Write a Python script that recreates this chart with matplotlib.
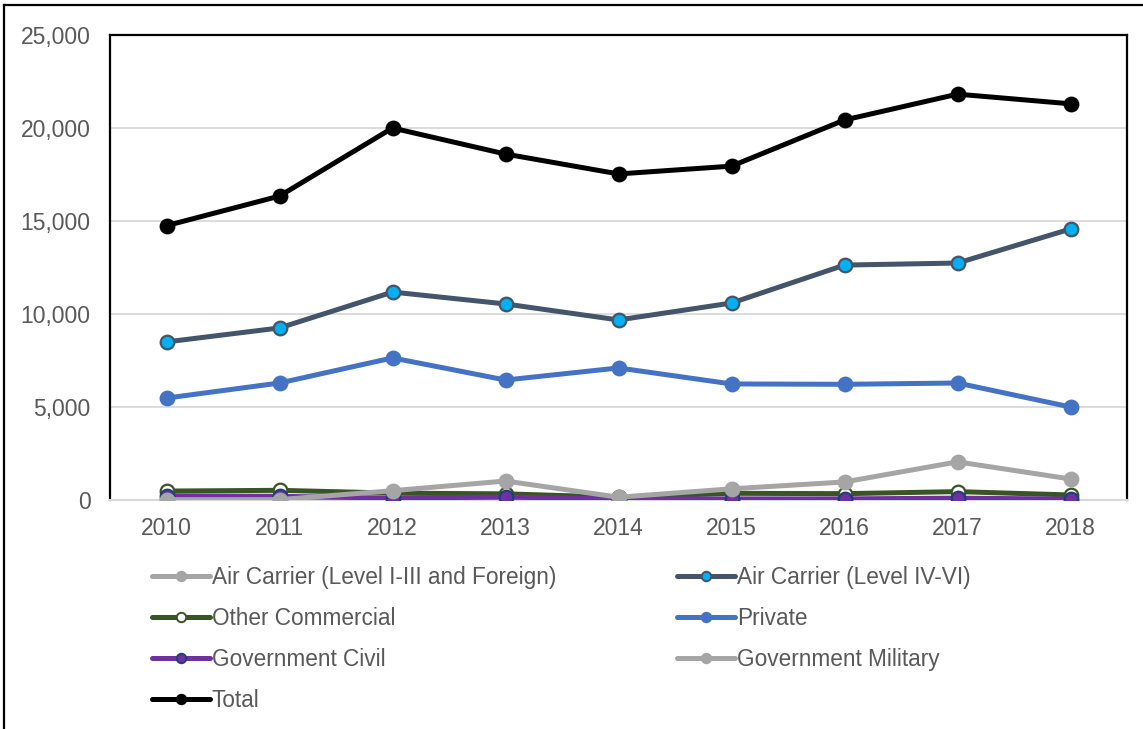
import matplotlib
matplotlib.use("Agg")
import matplotlib.pyplot as plt
from matplotlib.lines import Line2D
from matplotlib.ticker import FuncFormatter

years = ["2010", "2011", "2012", "2013", "2014", "2015", "2016", "2017", "2018"]

air_carrier_1_3 = [30, 30, 30, 30, 30, 30, 30, 30, 30]
air_carrier_4_6 = [8500, 9250, 11180, 10540, 9680, 10590, 12630, 12740, 14570]
other_commercial = [480, 520, 370, 330, 150, 360, 340, 450, 270]
private = [5480, 6290, 7640, 6450, 7100, 6240, 6220, 6290, 5000]
government_civil = [220, 200, 100, 160, 50, 60, 60, 100, 50]
government_military = [20, 20, 500, 1020, 150, 600, 970, 2050, 1130]
total = [14750, 16340, 20000, 18600, 17530, 17950, 20430, 21820, 21300]

y_ticks = [0, 5000, 10000, 15000, 20000, 25000]

plt.rcParams["font.family"] = ["Liberation Sans", "DejaVu Sans"]

W, H = 1143, 729
fig = plt.figure(figsize=(W / 100, H / 100), dpi=100)
ax = fig.add_axes([110 / W, 1 - 500 / H, (1127 - 110) / W, (500 - 35) / H])

x = list(range(len(years)))
lw = 3.6
ms = 9.8

series = [
    ("Air Carrier (Level I-III and Foreign)", air_carrier_1_3,
     dict(color="#A5A5A5", marker="o", mfc="#A5A5A5", mec="#A5A5A5")),
    ("Air Carrier (Level IV-VI)", air_carrier_4_6,
     dict(color="#44546A", marker="o", mfc="#00B0F0", mec="#44546A")),
    ("Other Commercial", other_commercial,
     dict(color="#375623", marker="o", mfc="white", mec="#375623")),
    ("Private", private,
     dict(color="#4472C4", marker="o", mfc="#4472C4", mec="#4472C4")),
    ("Government Civil", government_civil,
     dict(color="#7030A0", marker="o", mfc="#7030A0", mec="#1F3F7A")),
    ("Government Military", government_military,
     dict(color="#A5A5A5", marker="o", mfc="#A5A5A5", mec="#A5A5A5")),
    ("Total", total,
     dict(color="black", marker="o", mfc="black", mec="black")),
]

lines = {}
for i, (name, vals, st) in enumerate(series):
    ln, = ax.plot(x, vals, lw=lw, ms=ms, mew=1.6, zorder=3 + i,
                  solid_capstyle="round", label=name, **st)
    lines[name] = ln

ax.set_xlim(-0.5, len(years) - 0.5)
ax.set_ylim(0, 25000)
ax.set_yticks(y_ticks)
ax.yaxis.set_major_formatter(FuncFormatter(lambda v, p: f"{int(v):,}"))
ax.set_xticks(x)
ax.set_xticklabels(years)
ax.grid(axis="y", color="#D9D9D9", lw=1.3, zorder=0)
ax.set_axisbelow(True)
ax.tick_params(axis="both", length=0, labelsize=16.5, labelcolor="#595959")
ax.tick_params(axis="x", pad=12.5)
ax.tick_params(axis="y", pad=14)
for s in ("top", "left", "right"):
    ax.spines[s].set_color("black")
    ax.spines[s].set_linewidth(1.6)
ax.spines["bottom"].set_color("#D9D9D9")
ax.spines["bottom"].set_linewidth(1.5)

# legend laid out in two columns, row by row
order = ["Air Carrier (Level I-III and Foreign)", "Other Commercial",
         "Government Civil", "Total",
         "Air Carrier (Level IV-VI)", "Private", "Government Military"]
handles = []
for name in order:
    src = lines[name]
    handles.append(Line2D([], [], color=src.get_color(), lw=lw,
                          marker="o", ms=6.8, mew=1.4,
                          mfc=src.get_markerfacecolor(),
                          mec=src.get_markeredgecolor(),
                          solid_capstyle="round"))
leg = fig.legend(handles, order, ncol=2, loc="upper left",
                 bbox_to_anchor=(152 / W, 1 - 566 / H),
                 frameon=False, fontsize=16.3, borderpad=0, borderaxespad=0,
                 handlelength=2.55, handletextpad=0.1, labelspacing=0.8,
                 columnspacing=5.35)
for t in leg.get_texts():
    t.set_color("#595959")

# outer frame
fig.add_artist(Line2D([3.5 / W, 3.5 / W], [0, 1 - 5 / H], color="black",
                      lw=1.6, transform=fig.transFigure))
fig.add_artist(Line2D([3.5 / W, 1], [1 - 5 / H, 1 - 5 / H], color="black",
                      lw=1.6, transform=fig.transFigure))

fig.savefig("out.png", dpi=100)
